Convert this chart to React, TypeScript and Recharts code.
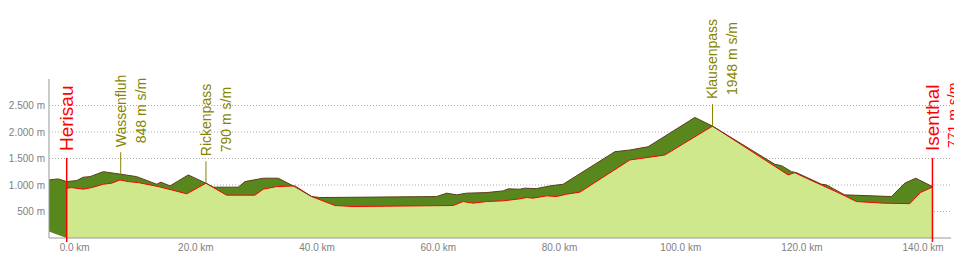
import React from 'react';
import {
  ComposedChart, Area, Line, XAxis, YAxis, CartesianGrid, ReferenceDot
} from 'recharts';

// terrain band (dark green), km along the route axis
const terrainKm = [-4.24, -2.71, -1.32, 0.33, 1.42, 2.52, 4.72, 7.64, 10.23, 13.53, 14.24, 15.72, 18.74, 21.66, 22.86, 26.99, 28.09, 31.11, 33.59, 36.06, 39.1, 40.46, 59.72, 61.37, 63.02, 64.67, 67.96, 70.7, 71.53, 73.46, 74.28, 76.21, 78.41, 80.6, 89.13, 91.61, 94.62, 102.33, 105.25, 115.52, 116.63, 118.28, 119.1, 123.23, 124.05, 126.53, 127.07, 134.77, 136.97, 138.78, 141.54];
const terrainTop = [1096, 1115, 1064, 1083, 1147, 1158, 1252, 1203, 1158, 1015, 1053, 983, 1190, 1034, 959, 959, 1064, 1128, 1128, 983, 782, 763, 782, 846, 814, 846, 857, 889, 927, 921, 940, 932, 983, 1015, 1628, 1660, 1722, 2275, 2111, 1391, 1365, 1252, 1233, 1015, 1002, 846, 814, 782, 1034, 1128, 970];
const terrainFoot = [124, 56];

// route profile (light green)
const routeKm = [-1.32, -0.49, 1.42, 2.94, 4.72, 6.1, 7.47, 8.84, 10.49, 13.25, 13.79, 16.0, 18.48, 21.66, 25.07, 29.74, 31.11, 33.32, 36.34, 39.1, 42.94, 45.96, 62.45, 64.1, 65.75, 67.96, 70.7, 73.46, 74.56, 75.65, 77.86, 79.51, 81.16, 83.35, 91.61, 97.38, 105.25, 117.72, 118.82, 120.75, 125.96, 129.0, 133.39, 137.79, 139.55, 141.54];
const routeElev = [940, 951, 921, 955, 1015, 1034, 1096, 1064, 1045, 983, 970, 908, 833, 1034, 808, 808, 921, 970, 983, 782, 613, 594, 613, 688, 658, 688, 701, 739, 763, 752, 795, 782, 827, 865, 1472, 1566, 2111, 1190, 1233, 1128, 857, 688, 658, 648, 857, 961];

const passNames = ['Wassenfluh', 'Rickenpass', 'Klausenpass'];
const passKm = [7.59, 21.66, 105.25];
const passElev = [1203, 1034, 2111];
const passLabels = ['848 m s/m', '790 m s/m', '1948 m s/m'];

const endNames = ['Herisau', 'Isenthal'];
const endKm = [-1.32, 141.54];
const endLabels = ['', '771 m s/m'];

const xTicks = [0, 20, 40, 60, 80, 100, 120, 140];
const yTicks = [500, 1000, 1500, 2000, 2500];

const OLIVE = '#858500';
const RED = '#ff0000';
const TICK = '#808080';

const terrain = terrainKm.map((km, i) => ({ km, lo: terrainFoot[i] ?? 0, hi: terrainTop[i] }));
const route = routeKm.map((km, i) => ({ km, elev: routeElev[i] }));

const fmtY = (v: number) => (v >= 1000 ? `${Math.floor(v / 1000)}.${String(v % 1000).padStart(3, '0')}` : `${v}`) + ' m';

const vText = (x: number, y: number, txt: string, size: number, color: string) => (
  <text transform={`translate(${x},${y}) rotate(-90)`} dy="0.35em" fontSize={size} fill={color} textAnchor="start">
    {txt}
  </text>
);

const YTick = (p: any) => (
  <text x={p.x} y={p.y} dy="0.35em" textAnchor="end" fontSize={10} fill={TICK}>{fmtY(p.payload.value)}</text>
);

const XTick = (p: any) => (
  <text x={p.x} y={p.y} dy="0.71em" textAnchor="middle" fontSize={10} fill={TICK}>{`${p.payload.value.toFixed(1)} km`}</text>
);

export default function App() {
  return (
    <div style={{ width: 954, height: 246, fontFamily: '"Liberation Sans", Arial, sans-serif' }}>
      <ComposedChart width={954} height={246} margin={{ top: 71, right: 11, bottom: 0, left: 0 }}>
        <CartesianGrid horizontal vertical={false} horizontalValues={yTicks} stroke="#aaa" strokeDasharray="1 2" />
        <XAxis
          type="number" dataKey="km" domain={[-4.24, 144.6]} ticks={xTicks} allowDataOverflow
          tick={XTick} tickLine={false} tickSize={0} tickMargin={6}
          axisLine={{ stroke: '#999' }} height={16}
        />
        <YAxis
          type="number" domain={[0, 3000]} ticks={yTicks} allowDataOverflow
          tick={YTick} tickLine={false} tickSize={0} tickMargin={4}
          axisLine={{ stroke: '#999' }} width={41}
        />
        <Area data={terrain} dataKey={(d: any) => [d.lo, d.hi]} fill="#58871e" fillOpacity={1} stroke="none" type="linear" isAnimationActive={false} />
        <Line data={terrain} dataKey="hi" stroke="#5e3d1c" strokeWidth={1} dot={false} type="linear" isAnimationActive={false} />
        <Area data={route} dataKey="elev" fill="#d0e88c" fillOpacity={1} stroke={RED} strokeWidth={1} type="linear" isAnimationActive={false} />
        {passKm.map((km, i) => (
          <ReferenceDot
            key={passNames[i]} x={km} y={passElev[i]} r={0}
            shape={(p: any) => (
              <g>
                <line x1={p.cx} y1={p.cy} x2={p.cx} y2={p.cy - 22} stroke={OLIVE} strokeWidth={1} />
                {vText(p.cx, p.cy - 27, passNames[i], 14, OLIVE)}
                {vText(p.cx + 20, p.cy - 31, passLabels[i], 14, OLIVE)}
              </g>
            )}
          />
        ))}
        {endKm.map((km, i) => (
          <ReferenceDot
            key={endNames[i]} x={km} y={0} r={0}
            shape={(p: any) => (
              <g>
                <line x1={p.cx} y1={p.cy + 4} x2={p.cx} y2={p.cy - 80} stroke={RED} strokeWidth={1.5} />
                {vText(p.cx, p.cy - 87, endNames[i], 19, RED)}
                {endLabels[i] && vText(p.cx + 21, p.cy - 90, endLabels[i], 14, RED)}
              </g>
            )}
          />
        ))}
      </ComposedChart>
    </div>
  );
}
